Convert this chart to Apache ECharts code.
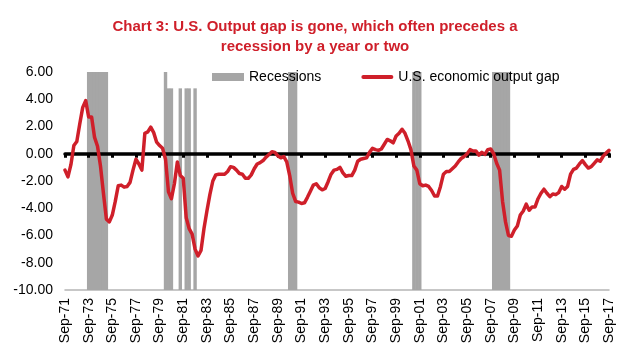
<!DOCTYPE html>
<html>
<head>
<meta charset="utf-8">
<script src="https://cdn.jsdelivr.net/npm/echarts@6/dist/echarts.min.js"></script>
<style>
html,body{margin:0;padding:0;background:#fff;}
#chart{width:630px;height:355px;}
</style>
</head>
<body>
<div id="chart"></div>
<script>
// Quarterly categories Sep-71 .. Sep-17
const startYear = 71;
const quarterMonths = ['Sep', 'Dec', 'Mar', 'Jun'];
const quarterCount = 185;

// U.S. economic output gap (% of potential), quarterly
const outputGap = [
  -1.2, -1.7, -0.8, 0.6, 0.9, 2.2, 3.4, 3.9, 2.7, 2.7,
  1.2, 0.55, -0.9, -2.9, -4.8, -5.0, -4.5, -3.5, -2.35, -2.3,
  -2.45, -2.4, -2.1, -1.2, -0.4, -0.75, -1.2, 1.5, 1.6, 1.95,
  1.55, 0.85, 0.6, 0.4, -0.4, -2.8, -3.3, -2.2, -0.6, -1.6,
  -1.8, -4.7, -5.5, -5.9, -7.0, -7.5, -7.1, -5.5, -4.2, -3.0,
  -2.0, -1.55, -1.5, -1.5, -1.5, -1.3, -0.95, -1.0, -1.2, -1.45,
  -1.5, -1.8, -1.8, -1.55, -1.1, -0.75, -0.65, -0.5, -0.25, -0.05,
  0.15, 0.1, -0.15, -0.3, -0.2, -0.6, -1.6, -2.9, -3.5, -3.55,
  -3.65, -3.6, -3.2, -2.75, -2.3, -2.2, -2.5, -2.65, -2.55, -2.05,
  -1.5, -1.2, -1.15, -1.0, -1.4, -1.65, -1.6, -1.6, -1.2, -0.55,
  -0.4, -0.35, -0.3, 0.1, 0.4, 0.3, 0.25, 0.35, 0.7, 1.05,
  0.95, 0.8, 1.3, 1.5, 1.8, 1.5, 0.95, 0.3, -0.9, -1.2,
  -2.2, -2.35, -2.3, -2.4, -2.7, -3.1, -3.1, -2.4, -1.5, -1.3,
  -1.3, -1.1, -0.9, -0.6, -0.35, -0.2, 0.0, 0.3, 0.2, 0.2,
  -0.1, 0.1, -0.05, 0.3, 0.35, 0.0, -0.7, -1.2, -3.5, -5.0,
  -6.0, -6.05, -5.6, -5.3, -4.5, -4.2, -3.7, -4.15, -3.9, -3.9,
  -3.3, -2.9, -2.6, -2.9, -3.15, -2.95, -3.0, -2.85, -2.4, -2.6,
  -2.4, -1.5, -1.15, -1.05, -0.75, -0.5, -0.8, -1.05, -0.95, -0.7,
  -0.45, -0.55, -0.2, 0.05, 0.25
];

// Recession shading: [first quarter, last quarter, bar top]
const recessionSpans = [
  ['Sep-73', 'Mar-75', 6],
  ['Mar-80', 'Mar-80', 6],
  ['Jun-80', 'Sep-80', 4.8],
  ['Jun-81', 'Jun-81', 4.8],
  ['Dec-81', 'Mar-82', 4.8],
  ['Sep-82', 'Sep-82', 4.8],
  ['Sep-90', 'Mar-91', 6],
  ['Mar-01', 'Sep-01', 6],
  ['Dec-07', 'Mar-09', 6]
];
const recessionBottom = -10;

const yTicks = { min: -10, max: 6, interval: 2 };

const categories = [];
for (let i = 0; i < quarterCount; i++) {
  const yr = (startYear + Math.floor((i + 2) / 4)) % 100;
  categories.push(quarterMonths[i % 4] + '-' + String(yr).padStart(2, '0'));
}

const recTop = categories.map(() => null);
const recLow = categories.map(() => null);
recessionSpans.forEach(([a, b, h]) => {
  const s = categories.indexOf(a), e = categories.indexOf(b);
  for (let i = s; i <= e; i++) { recTop[i] = h; recLow[i] = recessionBottom; }
});

const RED = '#cf1f2a';
const GRAY = '#a6a6a6';
const FONT = '"Liberation Sans", Arial, sans-serif';

const chart = echarts.init(document.getElementById('chart'), null, { renderer: 'canvas' });
chart.setOption({
  animation: false,
  textStyle: { fontFamily: FONT },
  title: {
    text: 'Chart 3: U.S. Output gap is gone, which often precedes a\nrecession by a year or two',
    left: 'center',
    top: 12,
    textStyle: { color: RED, fontSize: 15, fontWeight: 'bold', lineHeight: 20, fontFamily: FONT }
  },
  legend: {
    left: 207,
    top: 65,
    itemWidth: 32,
    itemHeight: 8,
    itemGap: 40,
    symbolKeepAspect: true,
    textStyle: { fontSize: 14, color: '#000', fontFamily: FONT },
    data: [
      { name: 'Recessions', icon: 'rect' },
      { name: 'U.S. economic output gap', icon: 'path://M2,0L30,0A2,2 0 0 1 30,4L2,4A2,2 0 0 1 2,0Z' }
    ]
  },
  grid: { left: 65, right: 21, top: 72, bottom: 65, outerBoundsMode: 'none' },
  xAxis: [
    {
      type: 'category',
      data: categories,
      boundaryGap: false,
      position: 'bottom',
      axisLine: { onZero: false, lineStyle: { color: '#b5b5b5', width: 1.5 } },
      axisTick: { show: false },
      axisLabel: { interval: 7, rotate: 90, margin: 8, fontSize: 14, color: '#000', fontFamily: FONT },
      splitLine: { show: false }
    },
    {
      type: 'category',
      data: categories,
      boundaryGap: false,
      position: 'top',
      z: 3,
      axisLine: { onZero: true, lineStyle: { color: '#000', width: 3.5 } },
      axisTick: { show: true, inside: true, interval: 7, length: 4, lineStyle: { color: '#000', width: 3 } },
      axisLabel: { show: false },
      splitLine: { show: false }
    }
  ],
  yAxis: {
    type: 'value',
    min: yTicks.min,
    max: yTicks.max,
    interval: yTicks.interval,
    axisLine: { show: false },
    axisTick: { show: false },
    splitLine: { show: false },
    axisLabel: {
      margin: 12, fontSize: 14, color: '#000', fontFamily: FONT,
      formatter: v => v.toFixed(2)
    }
  },
  series: [
    {
      name: 'Recessions',
      type: 'bar',
      data: recTop,
      barGap: '-100%',
      barWidth: 3.4,
      itemStyle: { color: GRAY },
      z: 2
    },
    {
      name: 'recLow',
      type: 'bar',
      data: recLow,
      barGap: '-100%',
      barWidth: 3.4,
      itemStyle: { color: GRAY },
      z: 2
    },
    {
      name: 'U.S. economic output gap',
      type: 'line',
      data: outputGap,
      symbol: 'none',
      lineStyle: { color: RED, width: 3.5, join: 'round', cap: 'round' },
      itemStyle: { color: RED },
      z: 5
    }
  ]
});
</script>
</body>
</html>
